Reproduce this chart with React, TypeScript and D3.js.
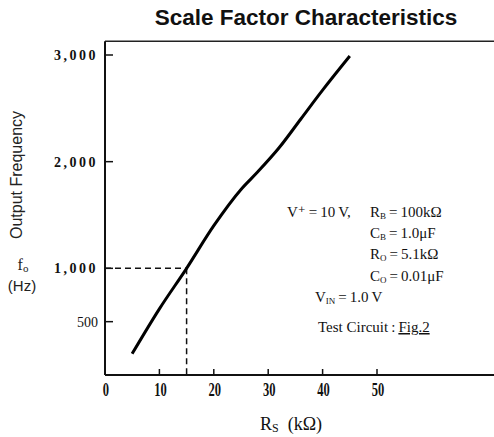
import React from 'react';
import { scaleLinear, line, curveMonotoneX, format } from 'd3';

// curve (Rs in kOhm, fo in Hz)
const rsValues = [5, 10, 15, 20, 25, 28, 32, 36, 40, 45];
const freqValues = [200, 620, 1000, 1400, 1740, 1900, 2130, 2400, 2670, 2990];
const xTicks = [0, 10, 20, 30, 40, 50];
const yTicks = [500, 1000, 2000, 3000];
// dashed guide point
const refRs = [15];
const refFreq = [1000];

const width = 494;
const height = 437;

const serif = '"Liberation Serif", "DejaVu Serif", serif';
const sans = '"Liberation Sans", Arial, sans-serif';

export default function App() {
  const x = scaleLinear().domain([0, 50]).range([105, 377]);
  const y = scaleLinear().domain([0, 3000]).range([375, 55]);
  const yTop = y(3130);

  const pts: [number, number][] = rsValues.map((d, i) => [d, freqValues[i]]);
  const path = line<[number, number]>()
    .x((d) => x(d[0]))
    .y((d) => y(d[1]))
    .curve(curveMonotoneX)(pts);

  const fmt = format(',');

  return (
    <svg
      width={width}
      height={height}
      style={{ position: 'absolute', left: 0, top: 0, background: '#fff' }}
    >
      <rect width={width} height={height} fill="#fff" />

      {/* title */}
      <text
        x={306}
        y={25}
        textAnchor="middle"
        fontFamily={sans}
        fontWeight="bold"
        fontSize={22.5}
        fill="#111"
      >
        Scale Factor Characteristics
      </text>

      {/* frame */}
      <line x1={x(0)} x2={width} y1={yTop} y2={yTop} stroke="#222" strokeWidth={1.5} />
      <line x1={x(0)} x2={x(0)} y1={yTop} y2={y(0)} stroke="#111" strokeWidth={2} />
      <line x1={x(0)} x2={width} y1={y(0)} y2={y(0)} stroke="#111" strokeWidth={2} />

      {/* y ticks */}
      {yTicks.map((t) => (
        <g key={'y' + t}>
          <line x1={x(0)} x2={x(0) + 8} y1={y(t)} y2={y(t)} stroke="#111" strokeWidth={1.5} />
          <text
            x={98}
            y={y(t) + 5}
            textAnchor="end"
            fontFamily={serif}
            fontWeight={t === 500 ? 'normal' : 'bold'}
            fontSize={14}
            letterSpacing={t === 500 ? 0 : 2.5}
            fill="#111"
          >
            {fmt(t)}
          </text>
        </g>
      ))}

      {/* x ticks */}
      {xTicks.map((t) => (
        <g key={'x' + t}>
          {t > 0 && (
            <line x1={x(t)} x2={x(t)} y1={y(0)} y2={y(0) - 6} stroke="#111" strokeWidth={1.5} />
          )}
          <text
            transform={`translate(${x(t) + 1},396) scale(0.66,1)`}
            textAnchor="middle"
            fontFamily={serif}
            fontWeight="bold"
            fontSize={19}
            fill="#111"
          >
            {t}
          </text>
        </g>
      ))}

      {/* dashed guides */}
      {refRs.map((r, i) => (
        <g key={'ref' + i}>
          <line
            x1={x(0)}
            x2={x(r)}
            y1={y(refFreq[i])}
            y2={y(refFreq[i])}
            stroke="#111"
            strokeWidth={1.5}
            strokeDasharray="6 4"
          />
          <line
            x1={x(r)}
            x2={x(r)}
            y1={y(refFreq[i])}
            y2={y(0)}
            stroke="#111"
            strokeWidth={1.5}
            strokeDasharray="6 4"
          />
        </g>
      ))}

      {/* curve */}
      <path d={path || ''} fill="none" stroke="#000" strokeWidth={3} />

      {/* y axis title */}
      <text
        transform="translate(22,175) rotate(-90)"
        textAnchor="middle"
        fontFamily={sans}
        fontSize={16}
        fill="#222"
      >
        Output Frequency
      </text>
      <text x={23} y={270} textAnchor="middle" fontFamily={serif} fontSize={16} fill="#222">
        f<tspan fontSize={11} dy={2}>o</tspan>
      </text>
      <text x={22} y={291} textAnchor="middle" fontFamily={sans} fontSize={15} fill="#222">
        (Hz)
      </text>

      {/* x axis title */}
      <text x={260} y={430} fontFamily={serif} fontSize={18} fill="#111">
        R<tspan fontSize={12} dy={2}>S</tspan>
        <tspan dy={-2}>{'\u2002(k\u03A9)'}</tspan>
      </text>

      {/* conditions */}
      <g fontFamily={serif} fontSize={15} fill="#111">
        <text x={287} y={217}>
          {'V\u207A\u2009=\u200910\u2009V,'}
        </text>
        <text x={370} y={217}>
          R<tspan fontSize={9} dy={2}>B</tspan>
          <tspan dy={-2}>{'\u2009=\u2009100k\u03A9'}</tspan>
        </text>
        <text x={370} y={238}>
          C<tspan fontSize={9} dy={2}>B</tspan>
          <tspan dy={-2}>{'\u2009=\u20091.0\u03BCF'}</tspan>
        </text>
        <text x={370} y={259}>
          R<tspan fontSize={9} dy={2}>O</tspan>
          <tspan dy={-2}>{'\u2009=\u20095.1k\u03A9'}</tspan>
        </text>
        <text x={370} y={281}>
          C<tspan fontSize={9} dy={2}>O</tspan>
          <tspan dy={-2}>{'\u2009=\u20090.01\u03BCF'}</tspan>
        </text>
        <text x={315} y={302}>
          V<tspan fontSize={9} dy={2}>IN</tspan>
          <tspan dy={-2}>{'\u2009=\u20091.0\u2009V'}</tspan>
        </text>
        <text x={318} y={332}>
          {'Test Circuit\u2009:\u2009'}
          <tspan textDecoration="underline">Fig.2</tspan>
        </text>
      </g>
    </svg>
  );
}
